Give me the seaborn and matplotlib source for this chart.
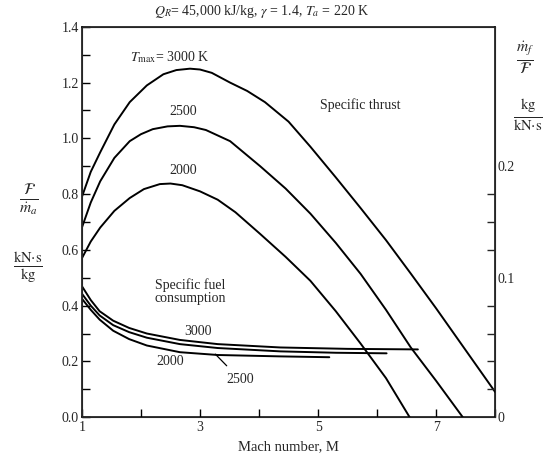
import numpy as np
import pandas as pd
import seaborn as sns
import matplotlib
matplotlib.use("Agg")
from matplotlib import pyplot as plt
from matplotlib.ticker import FixedLocator, MultipleLocator

sns.set_style("ticks")
plt.rcParams['font.family'] = ['Liberation Serif', 'DejaVu Serif']
plt.rcParams['mathtext.fontset'] = 'stix'

# Specific thrust F/m_a (kN.s/kg)
mach_3000 = [1.0, 1.15, 1.31, 1.55, 1.81, 2.1, 2.38, 2.6, 2.83, 3.0, 3.2, 3.51, 3.8, 4.1, 4.5, 4.87,
             5.3, 5.72, 6.15, 6.57, 7.0, 7.42, 7.7, 8.0]
thrust_3000 = [0.79, 0.88, 0.95, 1.05, 1.13, 1.19, 1.23, 1.245, 1.25, 1.247, 1.235, 1.20, 1.17, 1.13,
               1.06, 0.97, 0.86, 0.75, 0.635, 0.515, 0.39, 0.264, 0.18, 0.09]

mach_2500 = [1.0, 1.15, 1.31, 1.55, 1.81, 2.0, 2.2, 2.45, 2.66, 2.9, 3.1, 3.51, 4.02, 4.45, 4.87,
             5.3, 5.72, 6.15, 6.57, 7.0, 7.45]
thrust_2500 = [0.68, 0.77, 0.846, 0.93, 0.99, 1.015, 1.033, 1.043, 1.045, 1.04, 1.03, 0.99, 0.90,
               0.82, 0.73, 0.625, 0.514, 0.385, 0.25, 0.13, 0.0]

mach_2000 = [1.0, 1.15, 1.31, 1.55, 1.81, 2.05, 2.32, 2.5, 2.7, 3.0, 3.3, 3.6, 4.02, 4.45, 4.87,
             5.3, 5.72, 6.15, 6.55]
thrust_2000 = [0.57, 0.63, 0.68, 0.74, 0.786, 0.818, 0.836, 0.838, 0.832, 0.81, 0.78, 0.735, 0.657,
               0.575, 0.489, 0.38, 0.264, 0.14, 0.0]

# Specific fuel consumption, in the figure's plotting height (left-axis units)
sfc_mach_3000 = [1.0, 1.15, 1.3, 1.53, 1.8, 2.1, 2.66, 3.3, 4.36, 5.5, 6.69]
sfc_3000 = [0.47, 0.42, 0.38, 0.346, 0.32, 0.30, 0.277, 0.262, 0.25, 0.245, 0.243]
sfc_mach_2500 = [1.0, 1.15, 1.3, 1.53, 1.8, 2.1, 2.66, 3.3, 4.36, 5.3, 6.16]
sfc_2500 = [0.443, 0.40, 0.365, 0.33, 0.305, 0.285, 0.262, 0.248, 0.236, 0.231, 0.229]
sfc_mach_2000 = [1.0, 1.15, 1.3, 1.53, 1.8, 2.1, 2.66, 3.3, 4.36, 5.19]
sfc_2000 = [0.425, 0.385, 0.35, 0.31, 0.28, 0.257, 0.233, 0.223, 0.218, 0.215]

# right axis labels sit at these left-axis heights
right_tick_pos = [0.0, 0.5, 0.9]
right_tick_lab = ['0', '0.1', '0.2']

thrust = pd.concat([
    pd.DataFrame({'M': mach_3000, 'v': thrust_3000, 'T': 3000}),
    pd.DataFrame({'M': mach_2500, 'v': thrust_2500, 'T': 2500}),
    pd.DataFrame({'M': mach_2000, 'v': thrust_2000, 'T': 2000}),
])
sfc = pd.concat([
    pd.DataFrame({'M': sfc_mach_3000, 'v': sfc_3000, 'T': 3000}),
    pd.DataFrame({'M': sfc_mach_2500, 'v': sfc_2500, 'T': 2500}),
    pd.DataFrame({'M': sfc_mach_2000, 'v': sfc_2000, 'T': 2000}),
])

fig = plt.figure(figsize=(5.46, 4.63), dpi=100)
ax = fig.add_axes([0.150, 0.099, 0.757, 0.843])

sns.lineplot(data=thrust, x='M', y='v', units='T', estimator=None, sort=False,
             color='black', lw=1.4, ax=ax)
sns.lineplot(data=sfc, x='M', y='v', units='T', estimator=None, sort=False,
             color='black', lw=1.4, ax=ax)

ax.set_xlim(1, 8)
ax.set_ylim(0, 1.4)
ax.xaxis.set_major_locator(FixedLocator([1, 3, 5, 7]))
ax.xaxis.set_minor_locator(MultipleLocator(1))
ax.yaxis.set_major_locator(MultipleLocator(0.2))
ax.yaxis.set_minor_locator(MultipleLocator(0.1))
ax.yaxis.set_major_formatter(matplotlib.ticker.FormatStrFormatter('%.1f'))
ax.tick_params(which='both', direction='in', length=6, width=1, labelsize=10, color='black')
ax.tick_params(axis='y', pad=2)
ax.tick_params(axis='x', pad=3)
ax.set_xlabel('Mach number, M', fontsize=10.5, labelpad=4)
ax.set_ylabel('')
for s in ax.spines.values():
    s.set_linewidth(1.1)
    s.set_color('black')

ax2 = ax.twinx()
ax2.set_ylim(0, 1.4)
ax2.yaxis.set_major_locator(FixedLocator(right_tick_pos))
ax2.yaxis.set_major_formatter(matplotlib.ticker.FixedFormatter(right_tick_lab))
ax2.yaxis.set_minor_locator(FixedLocator(np.arange(1, 10) / 10))
ax2.tick_params(which='both', direction='in', width=1, labelsize=10, pad=2)
ax2.tick_params(which='major', length=0, axis='y')
ax2.tick_params(which='minor', length=6)

fig.text(262 / 546, 1 - 12 / 463, r'$Q_R$= 45,000 kJ/kg, $\gamma$ = 1.4, $T_a$ = 220 K',
         ha='center', va='center', fontsize=10)

ax.text(2.49, 1.29, r'$T_{\mathrm{max}}$= 3000 K', ha='center', va='center', fontsize=10)
ax.text(2.71, 1.095, '2500', ha='center', va='center', fontsize=10)
ax.text(2.71, 0.883, '2000', ha='center', va='center', fontsize=10)
ax.text(5.72, 1.12, 'Specific thrust', ha='center', va='center', fontsize=10)
ax.text(2.83, 0.452, 'Specific fuel\nconsumption', ha='center', va='center',
        fontsize=10, linespacing=1.0)
ax.text(2.97, 0.309, '3000', ha='center', va='center', fontsize=10)
ax.text(2.49, 0.20, '2000', ha='center', va='center', fontsize=10)
ax.annotate('2500', xy=(3.26, 0.226), xytext=(3.68, 0.135), ha='center', va='center',
            fontsize=10, arrowprops=dict(arrowstyle='-', lw=0.9, color='black',
                                         shrinkA=4, shrinkB=0))

fig.text(29 / 546, 1 - 200 / 463, r'$\frac{\mathcal{F}}{\dot{m}_a}$', ha='center', va='center', fontsize=16)
fig.text(28 / 546, 1 - 268 / 463, r'$\frac{\mathrm{kN{\cdot}s}}{\mathrm{kg}}$', ha='center', va='center', fontsize=15)
fig.text(525 / 546, 1 - 58 / 463, r'$\frac{\dot{m}_f}{\mathcal{F}}$', ha='center', va='center', fontsize=16)
fig.text(528 / 546, 1 - 115 / 463, r'$\frac{\mathrm{kg}}{\mathrm{kN{\cdot}s}}$', ha='center', va='center', fontsize=15)

fig.savefig('out.png', dpi=100)
